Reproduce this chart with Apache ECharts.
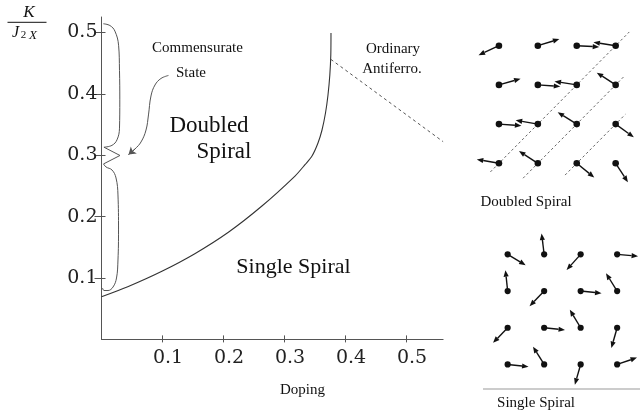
<!DOCTYPE html>
<html>
<head>
<meta charset="utf-8">
<script src="https://cdn.jsdelivr.net/npm/echarts@6/dist/echarts.min.js"></script>
<style>
  html, body { margin: 0; padding: 0; background: #fff; }
  #chart { width: 640px; height: 416px; }
</style>
</head>
<body>
<div id="chart"></div>
<script>
// ---- phase diagram values ----
const dopingTicks = [0.1, 0.2, 0.3, 0.4, 0.5];
const ratioTicks = [0.1, 0.2, 0.3, 0.4, 0.5];

// boundary between the single and doubled spiral phases
const boundaryDoping = [0, 0.043, 0.099, 0.153, 0.208, 0.263, 0.3172, 0.3336, 0.3451, 0.3549, 0.3615, 0.3672, 0.3713, 0.3743, 0.3759, 0.3762];
const boundaryRatio  = [0.0695, 0.0858, 0.111, 0.1396, 0.1745, 0.2172, 0.266, 0.2845, 0.2987, 0.3199, 0.3410, 0.3687, 0.3980, 0.4306, 0.4632, 0.4990];

// dashed border of the ordinary antiferromagnet
const antiferroDoping = [0.376, 0.56];
const antiferroRatio  = [0.456, 0.322];

// brace marking the commensurate state along the K axis
const braceUpperDoping = [0.003, 0.014, 0.022, 0.028, 0.0295, 0.030, 0.0295, 0.0254, 0.0172, 0.004];
const braceUpperRatio  = [0.514, 0.511, 0.502, 0.479, 0.438, 0.390, 0.344, 0.325, 0.316, 0.313];
const braceTipDoping   = [0.004, 0.0303, 0.0033];
const braceTipRatio    = [0.313, 0.2995, 0.2857];
const braceLowerDoping = [0.0033, 0.0074, 0.0172, 0.0238, 0.027, 0.0279, 0.027, 0.0246, 0.0189, 0.0107, 0.0041, 0.0016];
const braceLowerRatio  = [0.2857, 0.2808, 0.2759, 0.2629, 0.2352, 0.1782, 0.1293, 0.1000, 0.0853, 0.0796, 0.0796, 0.0837];

// pointer from the "State" caption to the brace tip
const pointerDoping = [0.1098, 0.0975, 0.0877, 0.0811, 0.0770, 0.0730, 0.0648, 0.0549, 0.0443];
const pointerRatio  = [0.4298, 0.4249, 0.4143, 0.3964, 0.3655, 0.3410, 0.3215, 0.3101, 0.3011];

// spin directions (degrees, counter-clockwise from +x), rows listed top to bottom
const doubledAngles = [
  [205, 17, -3, 171],
  [16, -4, 171, 147],
  [-4, 170, 148, -36],
  [170, 147, -39, -57]
];
const singleAngles = [
  [-31, 97, 228, -5],
  [96, 226, -6, 122],
  [226, -6, 121, 254],
  [-6, 122, 254, 19]
];
// dashed diagonals through the doubled-spiral lattice: [x0, y0, x1, y1] in lattice units
const doubledDiagonals = [
  [-0.22, -0.22, 3.35, 3.35],
  [0.62, -0.38, 3.22, 2.22],
  [1.70, -0.30, 3.25, 1.25]
];

// ---- helpers ----
const zip = (xs, ys) => xs.map((x, i) => [x, ys[i]]);
const latticeData = angles => {
  const out = [];
  angles.forEach((row, i) => row.forEach((a, c) => out.push([c, angles.length - 1 - i, a])));
  return out;
};
const INK = '#333';
const SERIF = '"Liberation Serif", "Times New Roman", serif';

function spinRenderer(len, dotR) {
  return function (params, api) {
    const p = api.coord([api.value(0), api.value(1)]);
    const a = api.value(2) * Math.PI / 180;
    const ux = Math.cos(a), uy = -Math.sin(a);
    const tip = [p[0] + ux * len, p[1] + uy * len];
    const head = 6.5, half = 2.6;
    const base = [tip[0] - ux * head, tip[1] - uy * head];
    const nx = -uy, ny = ux;
    return {
      type: 'group',
      children: [
        { type: 'line', shape: { x1: p[0], y1: p[1], x2: base[0], y2: base[1] }, style: { stroke: '#111', lineWidth: 1.4 } },
        { type: 'polygon', shape: { points: [tip, [base[0] + nx * half, base[1] + ny * half], [base[0] - nx * half, base[1] - ny * half]] }, style: { fill: '#111' } },
        { type: 'circle', shape: { cx: p[0], cy: p[1], r: dotR }, style: { fill: '#111' } }
      ]
    };
  };
}

const hiddenAxis = (gridIndex) => ({
  type: 'value', gridIndex, min: -0.5, max: 3.5, show: false,
  axisLine: { show: false }, axisTick: { show: false }, axisLabel: { show: false }, splitLine: { show: false }
});

const chart = echarts.init(document.getElementById('chart'), null, { renderer: 'canvas' });

const curveStyle = { color: INK, width: 1.1 };
const plainLine = (data, extra) => Object.assign({
  type: 'line', xAxisIndex: 0, yAxisIndex: 0, data, symbol: 'none', silent: true,
  lineStyle: curveStyle, z: 3
}, extra || {});

chart.setOption({
  animation: false,
  backgroundColor: '#fff',
  grid: [
    { left: 101.5, top: 17, width: 341.6, height: 322.4 },
    { left: 479.5, top: 26.1, width: 155.6, height: 156.8 },
    { left: 489.4, top: 236, width: 146, height: 146.8 }
  ],
  xAxis: [
    {
      type: 'value', gridIndex: 0, min: 0, max: 0.56,
      axisLine: { show: true, lineStyle: { color: '#555', width: 1 } },
      axisTick: { show: true, length: 3, customValues: dopingTicks, lineStyle: { color: '#555' } },
      axisLabel: {
        customValues: dopingTicks, formatter: v => v.toFixed(1),
        fontFamily: '"DejaVu Serif", serif', fontSize: 19, color: '#222',
        margin: 9, padding: [0, 0, 0, 11]
      },
      splitLine: { show: false }
    },
    {
      type: 'value', gridIndex: 0, min: 0, max: 0.56, position: 'bottom',
      axisLine: { show: false },
      axisTick: { show: true, inside: true, length: 4, customValues: dopingTicks, lineStyle: { color: '#555' } },
      axisLabel: { show: false }, splitLine: { show: false }
    },
    hiddenAxis(1),
    hiddenAxis(2)
  ],
  yAxis: [
    {
      type: 'value', gridIndex: 0, min: 0, max: 0.525,
      axisLine: { show: true, lineStyle: { color: '#555', width: 1 } },
      axisTick: { show: true, length: 7, customValues: ratioTicks, lineStyle: { color: '#555' } },
      axisLabel: {
        customValues: ratioTicks, formatter: v => v.toFixed(1),
        fontFamily: '"DejaVu Serif", serif', fontSize: 19, color: '#222',
        margin: 4, padding: [0, 0, 7, 0]
      },
      splitLine: { show: false }
    },
    {
      type: 'value', gridIndex: 0, min: 0, max: 0.525, position: 'left',
      axisLine: { show: false },
      axisTick: { show: true, inside: true, length: 4, customValues: ratioTicks, lineStyle: { color: '#555' } },
      axisLabel: { show: false }, splitLine: { show: false }
    },
    hiddenAxis(1),
    hiddenAxis(2)
  ],
  series: [
    plainLine(zip(boundaryDoping, boundaryRatio), { smooth: 0.3 }),
    plainLine(zip(antiferroDoping, antiferroRatio), { lineStyle: { color: '#555', width: 1, type: [3, 3] } }),
    plainLine(zip(braceUpperDoping, braceUpperRatio), { smooth: 0.4, lineStyle: { color: '#555', width: 1 } }),
    plainLine(zip(braceTipDoping, braceTipRatio), { lineStyle: { color: '#555', width: 1 } }),
    plainLine(zip(braceLowerDoping, braceLowerRatio), { smooth: 0.4, lineStyle: { color: '#555', width: 1 } }),
    plainLine(zip(pointerDoping, pointerRatio), { smooth: 0.4, lineStyle: { color: '#555', width: 1 } }),
    {
      type: 'lines', coordinateSystem: 'cartesian2d', xAxisIndex: 0, yAxisIndex: 0, silent: true,
      symbol: ['none', 'arrow'], symbolSize: 7,
      lineStyle: { color: '#555', width: 1, opacity: 1 },
      data: [{ coords: [
        [pointerDoping[pointerDoping.length - 2], pointerRatio[pointerRatio.length - 2]],
        [pointerDoping[pointerDoping.length - 1], pointerRatio[pointerRatio.length - 1]]
      ] }]
    },
    // doubled spiral lattice
    {
      type: 'lines', coordinateSystem: 'cartesian2d', xAxisIndex: 2, yAxisIndex: 2, silent: true,
      lineStyle: { color: '#666', width: 1, type: [2.5, 2.5], opacity: 1 },
      data: doubledDiagonals.map(d => ({ coords: [[d[0], d[1]], [d[2], d[3]]] }))
    },
    {
      type: 'custom', xAxisIndex: 2, yAxisIndex: 2, silent: true,
      renderItem: spinRenderer(22.5, 3.3),
      data: latticeData(doubledAngles)
    },
    // single spiral lattice
    {
      type: 'custom', xAxisIndex: 3, yAxisIndex: 3, silent: true,
      renderItem: spinRenderer(21, 3.1),
      data: latticeData(singleAngles)
    }
  ],
  graphic: [
    // vertical axis name: K / J_2X
    { type: 'text', x: 29, y: 12.5, style: { text: 'K', font: 'italic 17px ' + SERIF, fill: '#111', align: 'center', verticalAlign: 'middle' } },
    { type: 'line', shape: { x1: 7.5, y1: 22.3, x2: 46.5, y2: 22.3 }, style: { stroke: '#111', lineWidth: 1 } },
    { type: 'text', x: 15.5, y: 32.5, style: { text: 'J', font: 'italic 16px ' + SERIF, fill: '#111', align: 'center', verticalAlign: 'middle' } },
    { type: 'text', x: 23.5, y: 35.6, style: { text: '2', font: '11px ' + SERIF, fill: '#111', align: 'center', verticalAlign: 'middle' } },
    { type: 'text', x: 33, y: 35.6, style: { text: 'X', font: 'italic 13px ' + SERIF, fill: '#111', align: 'center', verticalAlign: 'middle' } },

    // region and annotation captions
    { type: 'text', x: 197.5, y: 48.5, style: { text: 'Commensurate', font: '15px ' + SERIF, fill: '#111', align: 'center', verticalAlign: 'middle' } },
    { type: 'text', x: 191, y: 73, style: { text: 'State', font: '15px ' + SERIF, fill: '#111', align: 'center', verticalAlign: 'middle' } },
    { type: 'text', x: 209, y: 126, style: { text: 'Doubled', font: '23px ' + SERIF, fill: '#111', align: 'center', verticalAlign: 'middle' } },
    { type: 'text', x: 224, y: 152, style: { text: 'Spiral', font: '23px ' + SERIF, fill: '#111', align: 'center', verticalAlign: 'middle' } },
    { type: 'text', x: 293.5, y: 267, style: { text: 'Single Spiral', font: '22px ' + SERIF, fill: '#111', align: 'center', verticalAlign: 'middle' } },
    { type: 'text', x: 393, y: 49.5, style: { text: 'Ordinary', font: '15px ' + SERIF, fill: '#111', align: 'center', verticalAlign: 'middle' } },
    { type: 'text', x: 392, y: 69.5, style: { text: 'Antiferro.', font: '15px ' + SERIF, fill: '#111', align: 'center', verticalAlign: 'middle' } },
    { type: 'text', x: 302.5, y: 390, style: { text: 'Doping', font: '15px ' + SERIF, fill: '#111', align: 'center', verticalAlign: 'middle' } },

    // lattice captions
    { type: 'text', x: 526, y: 202, style: { text: 'Doubled Spiral', font: '15px ' + SERIF, fill: '#111', align: 'center', verticalAlign: 'middle' } },
    { type: 'line', shape: { x1: 483, y1: 389, x2: 640, y2: 389 }, style: { stroke: '#bbb', lineWidth: 1.5 } },
    { type: 'text', x: 536, y: 403.5, style: { text: 'Single Spiral', font: '15px ' + SERIF, fill: '#111', align: 'center', verticalAlign: 'middle' } }
  ]
});
</script>
</body>
</html>
